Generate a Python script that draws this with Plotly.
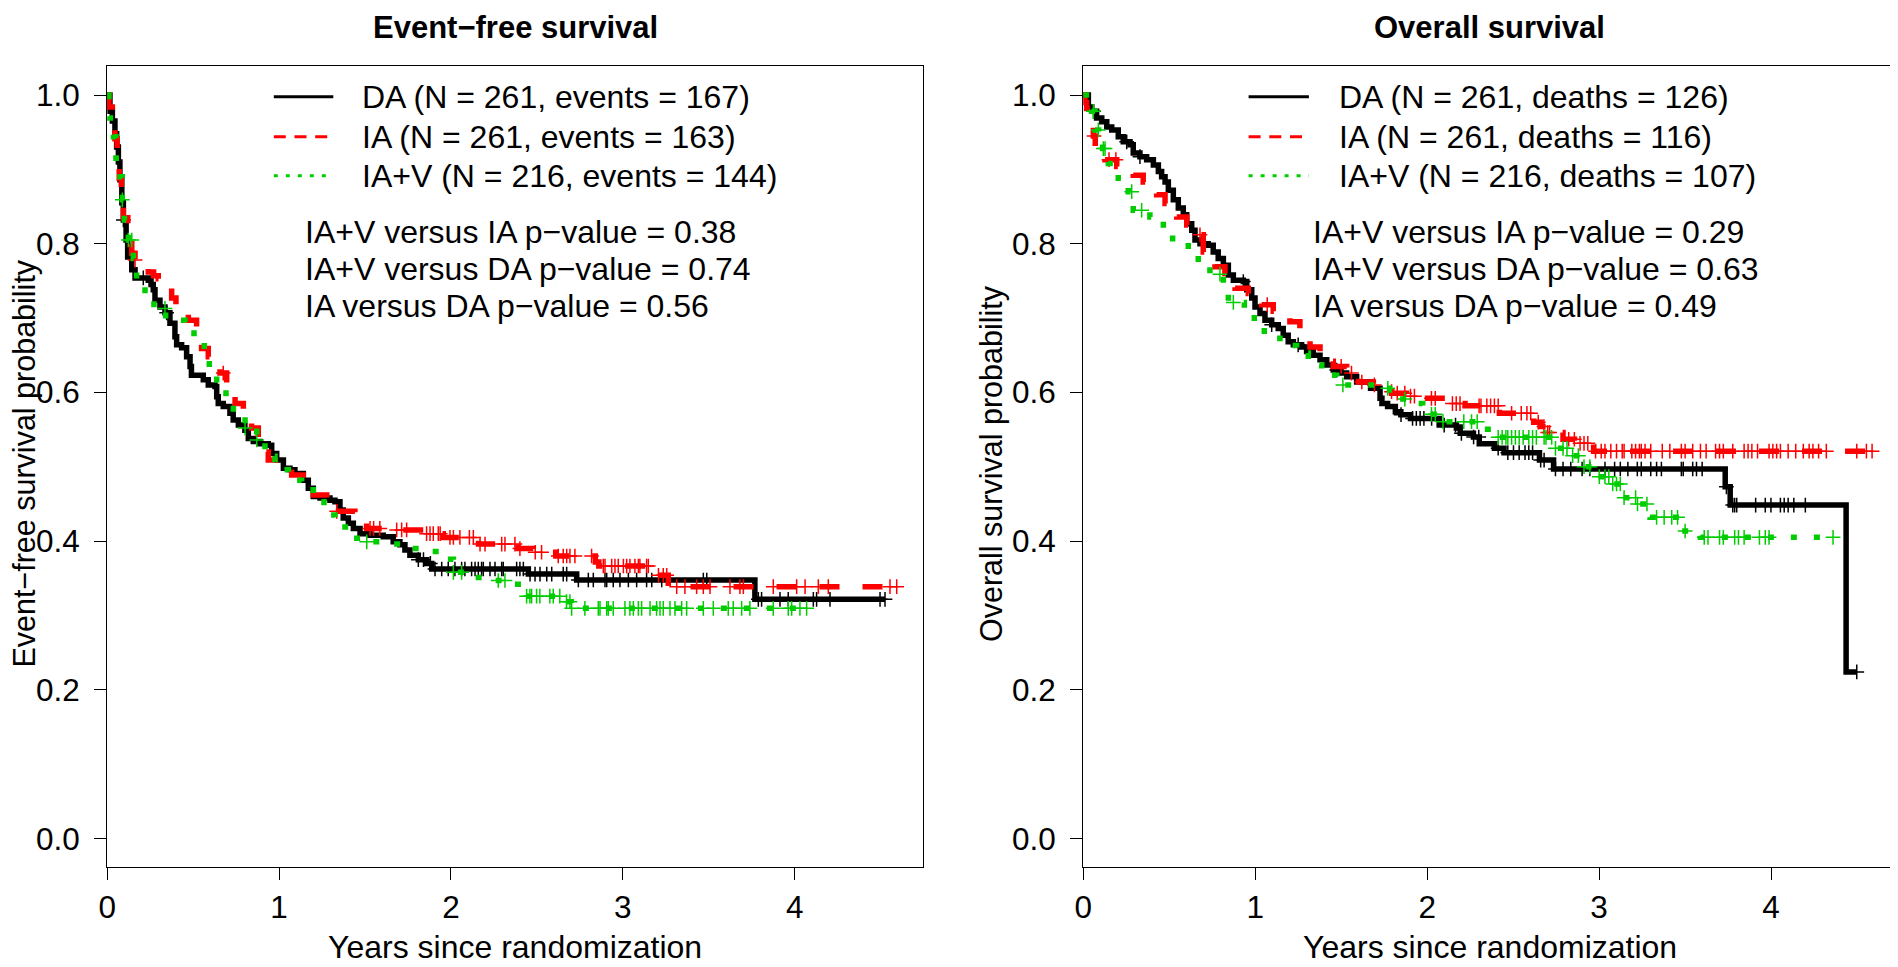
import numpy as np
import plotly.graph_objects as go

# ---------------- data ----------------
panel_titles = ["Event\u2212free survival", "Overall survival"]
y_titles = ["Event\u2212free survival probability", "Overall survival probability"]
x_title = "Years since randomization"
x_ticks = [0, 1, 2, 3, 4]
y_ticks = [0.0, 0.2, 0.4, 0.6, 0.8, 1.0]

efs_legend = ["DA (N = 261, events = 167)", "IA (N = 261, events = 163)", "IA+V (N = 216, events = 144)"]
os_legend = ["DA (N = 261, deaths = 126)", "IA (N = 261, deaths = 116)", "IA+V (N = 216, deaths = 107)"]
efs_pvalues = ["IA+V versus IA p\u2212value = 0.38", "IA+V versus DA p\u2212value = 0.74", "IA versus DA p\u2212value = 0.56"]
os_pvalues = ["IA+V versus IA p\u2212value = 0.29", "IA+V versus DA p\u2212value = 0.63", "IA versus DA p\u2212value = 0.49"]

# Event-free survival, DA
efs_da_t = [0, 0.016, 0.03, 0.045, 0.055, 0.065, 0.074, 0.085, 0.094, 0.11, 0.119, 0.143, 0.162, 0.239, 0.255,
            0.268, 0.278, 0.307, 0.336, 0.365, 0.394, 0.404, 0.433, 0.462, 0.482, 0.49, 0.559, 0.588, 0.627, 0.637,
            0.646, 0.675, 0.714, 0.733, 0.763, 0.801, 0.821, 0.85, 0.889, 0.937, 0.957, 0.986, 1.025, 1.063, 1.092,
            1.141, 1.17, 1.199, 1.238, 1.296, 1.325, 1.354, 1.373, 1.403, 1.432, 1.471, 1.529, 1.606, 1.664, 1.703,
            1.732, 1.761, 1.81, 1.859, 1.888, 2.45, 2.731, 3.768, 4.525]
efs_da_s = [1.0, 0.978, 0.965, 0.948, 0.93, 0.91, 0.886, 0.855, 0.832, 0.805, 0.782, 0.765, 0.754, 0.751, 0.745,
            0.738, 0.724, 0.715, 0.707, 0.693, 0.675, 0.664, 0.66, 0.648, 0.635, 0.623, 0.617, 0.61, 0.608, 0.594,
            0.585, 0.581, 0.572, 0.563, 0.556, 0.549, 0.538, 0.534, 0.531, 0.529, 0.518, 0.509, 0.498, 0.496, 0.491,
            0.482, 0.471, 0.46, 0.458, 0.455, 0.453, 0.442, 0.431, 0.424, 0.417, 0.41, 0.408, 0.406, 0.399, 0.395,
            0.388, 0.381, 0.375, 0.37, 0.3625, 0.3557, 0.3477, 0.3217, 0.3217]
efs_da_cens = [0.094, 0.21, 0.346, 1.81, 1.84, 1.88, 1.907, 1.946, 1.984, 2.023, 2.062, 2.081, 2.12, 2.14, 2.159,
               2.178, 2.188, 2.227, 2.256, 2.295, 2.304, 2.382, 2.401, 2.421, 2.46, 2.489, 2.518, 2.557, 2.586, 2.653,
               2.673, 2.741, 2.799, 2.828, 2.896, 2.906, 2.944, 2.983, 3.032, 3.08, 3.138, 3.168, 3.226, 3.468, 3.488,
               3.788, 3.807, 3.914, 3.962, 4.108, 4.127, 4.205, 4.496, 4.525]

# Event-free survival, IA
efs_ia_t = [0, 0.01, 0.03, 0.045, 0.058, 0.07, 0.082, 0.094, 0.12, 0.143, 0.162, 0.2, 0.239, 0.27, 0.297, 0.34,
            0.375, 0.4, 0.44, 0.472, 0.52, 0.549, 0.588, 0.62, 0.656, 0.695, 0.72, 0.744, 0.792, 0.82, 0.84, 0.879,
            0.91, 0.937, 1.005, 1.04, 1.073, 1.141, 1.17, 1.199, 1.277, 1.3, 1.315, 1.441, 1.48, 1.509, 1.6, 1.85,
            1.955, 2.16, 2.39, 2.479, 2.61, 2.84, 2.86, 3.19, 3.264, 4.593]
efs_ia_s = [1.0, 0.984, 0.965, 0.941, 0.915, 0.888, 0.862, 0.835, 0.8, 0.787, 0.778, 0.768, 0.762, 0.757, 0.753,
            0.74, 0.727, 0.715, 0.705, 0.697, 0.688, 0.659, 0.648, 0.635, 0.626, 0.612, 0.595, 0.585, 0.576, 0.562,
            0.552, 0.54, 0.52, 0.509, 0.507, 0.497, 0.489, 0.48, 0.47, 0.462, 0.453, 0.445, 0.44, 0.435, 0.425,
            0.417, 0.415, 0.41, 0.405, 0.396, 0.39, 0.385, 0.38, 0.372, 0.3665, 0.354, 0.3387, 0.3387]
efs_ia_cens = [0.162, 0.675, 1.335, 1.529, 1.55, 1.586, 1.684, 1.713, 1.742, 1.858, 1.878, 1.897, 1.926, 1.937,
               1.994, 2.014, 2.052, 2.107, 2.13, 2.169, 2.198, 2.295, 2.314, 2.372, 2.401, 2.49, 2.527, 2.624, 2.653,
               2.673, 2.692, 2.721, 2.818, 2.886, 2.896, 2.935, 2.954, 2.973, 3.003, 3.022, 3.041, 3.07, 3.09, 3.099,
               3.138, 3.148, 3.207, 3.235, 3.255, 3.313, 3.361, 3.429, 3.468, 3.507, 3.623, 3.681, 3.701, 3.875,
               4.011, 4.06, 4.137, 4.195, 4.554, 4.593]

# Event-free survival, IA+V
efs_iav_t = [0, 0.01, 0.036, 0.051, 0.074, 0.088, 0.1, 0.123, 0.152, 0.171, 0.22, 0.272, 0.34, 0.453, 0.505,
             0.565, 0.594, 0.637, 0.691, 0.734, 0.802, 0.87, 0.918, 0.976, 1.054, 1.131, 1.199, 1.261, 1.325, 1.403,
             1.51, 1.635, 1.742, 1.864, 1.955, 2.014, 2.126, 2.246, 2.359, 2.42, 2.663, 2.7, 4.069]
efs_iav_s = [1.0, 0.969, 0.944, 0.915, 0.89, 0.859, 0.832, 0.805, 0.78, 0.753, 0.733, 0.713, 0.697, 0.691, 0.673,
             0.655, 0.629, 0.608, 0.588, 0.567, 0.552, 0.536, 0.514, 0.496, 0.482, 0.469, 0.453, 0.435, 0.419, 0.404,
             0.399, 0.396, 0.39, 0.386, 0.3755, 0.358, 0.351, 0.347, 0.342, 0.326, 0.3185, 0.3096, 0.3096]
efs_iav_cens = [0.088, 0.123, 0.143, 0.336, 0.802, 0.87, 1.51, 2.014, 2.062, 2.275, 2.314, 2.44, 2.459, 2.469,
                2.498, 2.517, 2.575, 2.595, 2.633, 2.672, 2.692, 2.702, 2.779, 2.857, 2.867, 2.906, 2.915, 2.944,
                3.012, 3.041, 3.061, 3.09, 3.109, 3.158, 3.196, 3.216, 3.235, 3.274, 3.303, 3.342, 3.371, 3.468,
                3.526, 3.613, 3.642, 3.691, 3.739, 3.875, 3.962, 3.982, 4.03, 4.069]

# Overall survival, DA
os_da_t = [0, 0.03, 0.049, 0.078, 0.108, 0.137, 0.166, 0.204, 0.233, 0.272, 0.291, 0.33, 0.369, 0.408, 0.437,
           0.456, 0.476, 0.495, 0.524, 0.553, 0.582, 0.602, 0.631, 0.65, 0.679, 0.727, 0.756, 0.785, 0.815, 0.844,
           0.873, 0.931, 0.951, 0.98, 0.999, 1.028, 1.057, 1.096, 1.134, 1.163, 1.192, 1.222, 1.27, 1.299, 1.338,
           1.377, 1.416, 1.454, 1.493, 1.532, 1.59, 1.671, 1.726, 1.737, 1.77, 1.815, 1.847, 1.903, 2.07, 2.17,
           2.192, 2.269, 2.303, 2.391, 2.447, 2.653, 2.735, 3.733, 3.762, 4.436, 4.498]
os_da_s = [1.0, 0.984, 0.978, 0.969, 0.964, 0.957, 0.953, 0.944, 0.937, 0.933, 0.922, 0.917, 0.913, 0.906, 0.897,
           0.89, 0.883, 0.872, 0.859, 0.848, 0.839, 0.827, 0.818, 0.805, 0.8, 0.798, 0.789, 0.78, 0.771, 0.758,
           0.751, 0.749, 0.738, 0.727, 0.715, 0.706, 0.697, 0.691, 0.686, 0.677, 0.668, 0.664, 0.661, 0.655, 0.65,
           0.644, 0.637, 0.63, 0.626, 0.621, 0.614, 0.6055, 0.592, 0.585, 0.581, 0.574, 0.57, 0.565, 0.556, 0.552,
           0.545, 0.54, 0.531, 0.525, 0.519, 0.509, 0.497, 0.473, 0.4485, 0.224, 0.224]
os_da_cens = [0.06, 0.253, 0.33, 0.931, 1.096, 1.25, 1.474, 1.848, 1.915, 1.937, 1.959, 1.981, 2.026, 2.099, 2.165,
              2.199, 2.27, 2.3, 2.413, 2.469, 2.502, 2.535, 2.569, 2.591, 2.613, 2.66, 2.68, 2.746, 2.79, 2.835,
              2.901, 2.946, 3.034, 3.09, 3.123, 3.167, 3.222, 3.245, 3.3, 3.334, 3.362, 3.478, 3.489, 3.544, 3.566,
              3.599, 3.74, 3.777, 3.788, 3.8, 3.91, 3.966, 3.999, 4.054, 4.076, 4.099, 4.132, 4.199, 4.498]

# Overall survival, IA
os_ia_t = [0, 0.01, 0.02, 0.04, 0.059, 0.07, 0.09, 0.127, 0.195, 0.25, 0.291, 0.349, 0.4, 0.427, 0.476, 0.52,
           0.544, 0.602, 0.63, 0.65, 0.698, 0.74, 0.766, 0.824, 0.86, 0.883, 0.96, 1.0, 1.038, 1.105, 1.15, 1.202,
           1.26, 1.29, 1.319, 1.377, 1.42, 1.454, 1.532, 1.6, 1.687, 1.716, 1.794, 1.88, 1.977, 2.14, 2.22, 2.42,
           2.62, 2.66, 2.7, 2.79, 2.857, 2.968, 4.587]
os_ia_s = [1.0, 0.99, 0.982, 0.965, 0.945, 0.93, 0.92, 0.913, 0.904, 0.897, 0.892, 0.883, 0.875, 0.866, 0.854,
           0.845, 0.836, 0.825, 0.818, 0.812, 0.789, 0.778, 0.769, 0.76, 0.75, 0.74, 0.733, 0.725, 0.718, 0.709,
           0.7, 0.695, 0.686, 0.675, 0.661, 0.65, 0.642, 0.635, 0.626, 0.614, 0.61, 0.601, 0.599, 0.595, 0.592,
           0.585, 0.582, 0.572, 0.56, 0.554, 0.546, 0.537, 0.5315, 0.521, 0.521]
os_ia_cens = [0.063, 0.15, 0.19, 0.679, 1.07, 1.5, 1.56, 1.62, 1.693, 1.793, 1.826, 1.87, 1.903, 1.926, 2.025,
              2.047, 2.147, 2.169, 2.191, 2.302, 2.313, 2.347, 2.369, 2.391, 2.413, 2.491, 2.547, 2.58, 2.602,
              2.646, 2.679, 2.701, 2.712, 2.823, 2.856, 2.889, 2.912, 2.934, 2.979, 3.012, 3.034, 3.068, 3.101,
              3.134, 3.145, 3.19, 3.212, 3.234, 3.245, 3.267, 3.3, 3.367, 3.411, 3.478, 3.5, 3.544, 3.589, 3.622,
              3.677, 3.7, 3.722, 3.777, 3.843, 3.866, 3.888, 3.921, 3.988, 4.01, 4.032, 4.054, 4.099, 4.143, 4.187,
              4.221, 4.243, 4.276, 4.321, 4.498, 4.554, 4.587]

# Overall survival, IA+V
os_iav_t = [0, 0.049, 0.069, 0.09, 0.113, 0.146, 0.175, 0.204, 0.262, 0.291, 0.388, 0.466, 0.52, 0.611, 0.669,
            0.737, 0.815, 0.844, 0.937, 0.995, 1.053, 1.144, 1.241, 1.309, 1.387, 1.474, 1.715, 1.781, 1.903, 1.974,
            2.07, 2.296, 2.391, 2.735, 2.835, 2.901, 2.986, 3.075, 3.13, 3.223, 3.296, 3.482, 3.589, 4.36]
os_iav_s = [1.0, 0.978, 0.953, 0.94, 0.928, 0.908, 0.898, 0.888, 0.87, 0.845, 0.836, 0.821, 0.802, 0.792, 0.774,
            0.759, 0.744, 0.721, 0.711, 0.691, 0.673, 0.663, 0.653, 0.637, 0.623, 0.61, 0.6055, 0.591, 0.585,
            0.5705, 0.5606, 0.5503, 0.5396, 0.5248, 0.5149, 0.5001, 0.4866, 0.4768, 0.4584, 0.4499, 0.432, 0.4136,
            0.4051, 0.4051]
os_iav_cens = [0.059, 0.088, 0.117, 0.127, 0.282, 0.34, 0.795, 0.873, 1.51, 1.771, 1.87, 2.025, 2.047, 2.092,
               2.213, 2.258, 2.291, 2.413, 2.436, 2.458, 2.469, 2.491, 2.513, 2.535, 2.558, 2.591, 2.613, 2.635,
               2.68, 2.691, 2.724, 2.746, 2.79, 2.813, 2.846, 2.879, 2.912, 2.946, 3.001, 3.034, 3.056, 3.079, 3.101,
               3.123, 3.145, 3.212, 3.223, 3.278, 3.334, 3.378, 3.422, 3.456, 3.5, 3.611, 3.633, 3.7, 3.722, 3.788,
               3.81, 3.843, 3.932, 3.966, 3.988, 4.36]

# ---------------- styling ----------------
W, H = 1898, 967
OFF = 8  # the page places the figure 8px from the top-left corner
FONT = "Liberation Sans, Arial, Helvetica, sans-serif"
FS = 32
colors = ["#000000", "#FF0000", "#00CD00"]
dashes = ["solid", "20px,23px", "6px,17px"]
legend_dashes = ["solid", "12px,8.7px", "4px,8px"]


def px_x(p):
    return (p - OFF) / W


def px_y(p):
    return 1 - (p - OFF) / H


def step_at(ts, ss, times):
    ts = np.asarray(ts)
    ss = np.asarray(ss)
    idx = np.searchsorted(ts, np.asarray(times), side="right") - 1
    idx = np.clip(idx, 0, len(ss) - 1)
    return ss[idx]


fig = go.Figure()

panels = [
    ("x", "y", [(efs_da_t, efs_da_s, efs_da_cens), (efs_ia_t, efs_ia_s, efs_ia_cens),
                (efs_iav_t, efs_iav_s, efs_iav_cens)]),
    ("x2", "y2", [(os_da_t, os_da_s, os_da_cens), (os_ia_t, os_ia_s, os_ia_cens),
                  (os_iav_t, os_iav_s, os_iav_cens)]),
]

for xa, ya, curves in panels:
    for k, (ts, ss, cens) in enumerate(curves):
        fig.add_trace(go.Scatter(x=ts, y=ss, mode="lines", xaxis=xa, yaxis=ya, showlegend=False,
                                 line=dict(color=colors[k], width=5.5, dash=dashes[k], shape="hv"),
                                 hoverinfo="skip"))
        fig.add_trace(go.Scatter(x=cens, y=step_at(ts, ss, cens), mode="markers", xaxis=xa, yaxis=ya,
                                 showlegend=False, hoverinfo="skip",
                                 marker=dict(symbol="cross-thin", size=10.5, color=colors[k],
                                             line=dict(color=colors[k], width=1.5))))

# axes geometry (page pixels)
left_box = (107.2, 923.0)
right_box = (1083.2, 1896.5)
top_px, bottom_px = 66.0, 867.0

axis_common = dict(showline=True, linecolor="black", linewidth=1, mirror=True, showgrid=False,
                   zeroline=False, ticks="outside", ticklen=12, tickwidth=1, tickcolor="black",
                   automargin=False,
                   tickfont=dict(family=FONT, size=31.5, color="black"))

fig.update_layout(
    template="none", autosize=False,
    width=W, height=H, margin=dict(l=0, r=0, t=0, b=0, pad=0, autoexpand=False),
    paper_bgcolor="white", plot_bgcolor="white", showlegend=False,
    xaxis=dict(domain=[px_x(left_box[0]), px_x(left_box[1])], range=[0, 4.746], anchor="y",
               tickvals=x_ticks, ticktext=[str(v) for v in x_ticks], **axis_common),
    yaxis=dict(domain=[px_y(bottom_px), px_y(top_px)], range=[-0.0383, 1.039], anchor="x",
               tickvals=y_ticks, ticktext=["%.1f" % v for v in y_ticks], ticklabelstandoff=8, **axis_common),
    xaxis2=dict(domain=[px_x(right_box[0]), px_x(right_box[1])], range=[0, 4.729], anchor="y2",
                tickvals=x_ticks, ticktext=[str(v) for v in x_ticks], **axis_common),
    yaxis2=dict(domain=[px_y(bottom_px), px_y(top_px)], range=[-0.0383, 1.039], anchor="x2",
                tickvals=y_ticks, ticktext=["%.1f" % v for v in y_ticks], ticklabelstandoff=8, **axis_common),
)

annotations = []
shapes = []


def text(x, y, s, size=FS, bold=False, xanchor="left", angle=0):
    annotations.append(dict(x=px_x(x), y=px_y(y), xref="paper", yref="paper", text=("<b>%s</b>" % s) if bold else s,
                            showarrow=False, xanchor=xanchor, yanchor="middle", textangle=angle,
                            font=dict(family=FONT, size=size, color="black")))


# titles
text((left_box[0] + left_box[1]) / 2, 27, panel_titles[0], size=31, bold=True, xanchor="center")
text((right_box[0] + right_box[1]) / 2, 27, panel_titles[1], size=31, bold=True, xanchor="center")
# x titles
text((left_box[0] + left_box[1]) / 2, 947, x_title, xanchor="center")
text((right_box[0] + right_box[1]) / 2, 947, x_title, xanchor="center")
# y titles
text(24.6, 464, y_titles[0], size=30.5, xanchor="center", angle=-90)
text(992, 464, y_titles[1], size=30.5, xanchor="center", angle=-90)

legend_rows = [96.8, 136.8, 175.8]
pv_rows = [232.5, 269.2, 305.8]
for (lx0, lx1, tx, px0, labels, pvals) in [
    (273.8, 333.3, 360.0, 302.5, efs_legend, efs_pvalues),
    (1248.6, 1308.9, 1336.5, 1310.5, os_legend, os_pvalues),
]:
    for k in range(3):
        shapes.append(dict(type="line", xref="paper", yref="paper", x0=px_x(lx0), x1=px_x(lx1),
                           y0=px_y(legend_rows[k]), y1=px_y(legend_rows[k]),
                           line=dict(color=colors[k], width=3, dash=legend_dashes[k])))
        text(tx, legend_rows[k], labels[k])
        text(px0, pv_rows[k], pvals[k])

fig.update_layout(annotations=annotations, shapes=shapes)

fig.write_html("out.html")
